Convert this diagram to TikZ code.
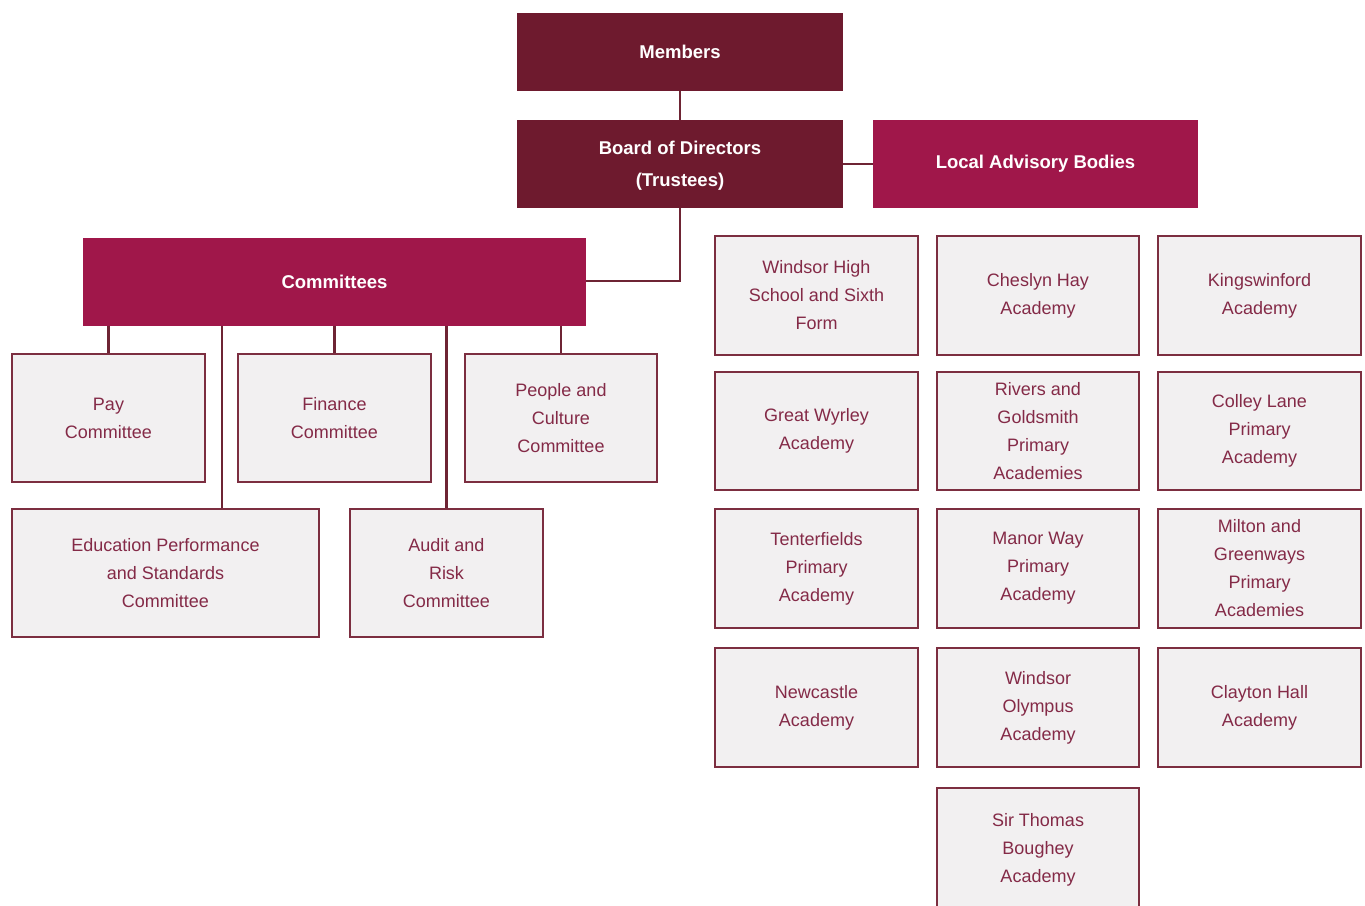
\documentclass[tikz,border=0pt]{standalone}
\usepackage{fontspec}
\setmainfont{Liberation Sans}
\definecolor{darkhead}{HTML}{6E1A2E}
\definecolor{crimson}{HTML}{A0174A}
\definecolor{boxline}{HTML}{7C2E40}
\definecolor{boxfill}{HTML}{F2F0F1}
\definecolor{boxtext}{HTML}{842A47}
\definecolor{conn}{HTML}{6E2434}
\begin{document}
\begin{tikzpicture}[x=1pt,y=-1pt,
  head/.style={fill=darkhead, draw=none, text=white, font=\fontsize{18.5}{32}\selectfont\bfseries, align=center, inner sep=0pt},
  headb/.style={fill=crimson, draw=none, text=white, font=\fontsize{18.5}{32}\selectfont\bfseries, align=center, inner sep=0pt},
  unit/.style={fill=boxfill, draw=boxline, line width=2.1pt, text=boxtext, font=\fontsize{18}{28}\selectfont, align=center, inner sep=0pt},
  link/.style={draw=conn, line width=2.3pt}]
\useasboundingbox (0,0) rectangle (1365,905);
\fill[white] (0,0) rectangle (1365,905);
% top
\node[head, minimum width=326, minimum height=78] (mem) at (680,52) {Members};
\node[head, minimum width=326, minimum height=88] (board) at (680,164) {\raisebox{-3pt}{\begin{tabular}{@{}c@{}}Board of Directors\\(Trustees)\end{tabular}}};
\node[headb, minimum width=325, minimum height=88] (lab) at (1035.5,164) {\raisebox{-3pt}{Local Advisory Bodies}};
\node[headb, minimum width=503, minimum height=88] (comm) at (334.5,282) {Committees};
% committees
\node[unit, minimum width=193, minimum height=128] (pay) at (108.5,418) {Pay\\Committee};
\node[unit, minimum width=193, minimum height=128] (fin) at (334.5,418) {Finance\\Committee};
\node[unit, minimum width=192, minimum height=128] (ppl) at (561,418) {People and\\Culture\\Committee};
\node[unit, minimum width=307, minimum height=128] (edu) at (165.5,573) {Education Performance\\and Standards\\Committee};
\node[unit, minimum width=193, minimum height=128] (aud) at (446.5,573) {Audit and\\Risk\\Committee};
% academies
\node[unit, minimum width=203, minimum height=119] (a11) at (816.5,295.5) {Windsor High\\School and Sixth\\Form};
\node[unit, minimum width=202, minimum height=119] (a12) at (1038,295.5) {Cheslyn Hay\\Academy};
\node[unit, minimum width=203, minimum height=119] (a13) at (1259.5,295.5) {Kingswinford\\Academy};
\node[unit, minimum width=203, minimum height=118] (a21) at (816.5,431) {Great Wyrley\\Academy};
\node[unit, minimum width=202, minimum height=118] (a22) at (1038,431) {Rivers and\\Goldsmith\\Primary\\Academies};
\node[unit, minimum width=203, minimum height=118] (a23) at (1259.5,431) {Colley Lane\\Primary\\Academy};
\node[unit, minimum width=203, minimum height=119] (a31) at (816.5,568.5) {Tenterfields\\Primary\\Academy};
\node[unit, minimum width=202, minimum height=119] (a32) at (1038,568.5) {Manor Way\\Primary\\Academy};
\node[unit, minimum width=203, minimum height=119] (a33) at (1259.5,568.5) {Milton and\\Greenways\\Primary\\Academies};
\node[unit, minimum width=203, minimum height=119] (a41) at (816.5,707.5) {Newcastle\\Academy};
\node[unit, minimum width=202, minimum height=119] (a42) at (1038,707.5) {Windsor\\Olympus\\Academy};
\node[unit, minimum width=203, minimum height=119] (a43) at (1259.5,707.5) {Clayton Hall\\Academy};
\node[unit, minimum width=202, minimum height=124] (a52) at (1038,850) {Sir Thomas\\Boughey\\Academy};
% connectors
\draw[link] (mem.south) -- (board.north);
\draw[link] (board.east) -- (lab.west);
\draw[link] (board.south) |- ([yshift=1]comm.east);
\draw[link] (pay.north) -- (pay.north |- comm.south);
\draw[link] (fin.north) -- (fin.north |- comm.south);
\draw[link] (ppl.north) -- (ppl.north |- comm.south);
\draw[link] ([xshift=56.5]edu.north) -- ([xshift=56.5]edu.north |- comm.south);
\draw[link] (aud.north) -- (aud.north |- comm.south);
\end{tikzpicture}
\end{document}
